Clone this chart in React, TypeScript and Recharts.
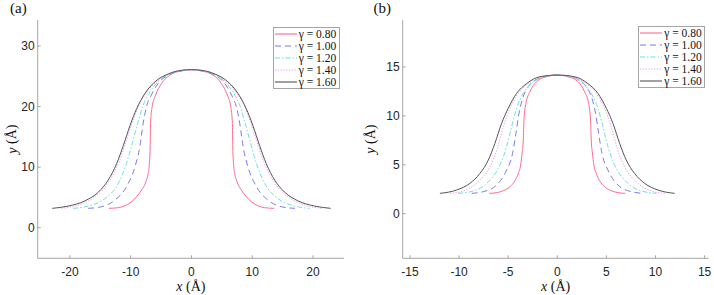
import { Legend, Line, LineChart, XAxis, YAxis } from 'recharts'

type Pt = [number, number]

const gammaLabels = ['γ = 0.80', 'γ = 1.00', 'γ = 1.20', 'γ = 1.40', 'γ = 1.60']

// panel (a)
const a080: Pt[] = [
  [-13.6, 3.2], [-12.05, 3.3], [-10.96, 3.63], [-9.86, 4.29], [-9.04, 5.11], [-8.22, 6.21], [-7.5, 7.58],
  [-7.12, 8.96], [-6.96, 10.05], [-6.8, 13.35], [-6.74, 17.2], [-6.47, 19.95], [-5.9, 21.9], [-4.93, 23.8],
  [-3.56, 25.2], [-1.64, 25.9], [0, 26.1],
  [1.64, 25.9], [3.56, 25.2], [4.93, 23.8], [5.9, 21.9], [6.47, 19.95], [6.74, 17.2], [6.8, 13.35],
  [6.96, 10.05], [7.12, 8.96], [7.5, 7.58], [8.22, 6.21], [9.04, 5.11], [9.86, 4.29], [10.96, 3.63],
  [12.05, 3.3], [13.6, 3.2],
]
const a100: Pt[] = [
  [-17.0, 3.2], [-14.8, 3.46], [-12.6, 4.56], [-10.7, 6.76], [-9.3, 10.05], [-8.5, 13.35], [-7.95, 17.2],
  [-7.4, 19.95], [-6.6, 21.9], [-5.5, 23.8], [-3.8, 25.2], [-1.64, 25.9], [0, 26.1],
  [1.64, 25.9], [3.8, 25.2], [5.5, 23.8], [6.6, 21.9], [7.4, 19.95], [7.95, 17.2], [8.5, 13.35],
  [9.3, 10.05], [10.7, 6.76], [12.6, 4.56], [14.8, 3.46], [17.0, 3.2],
]
const a120: Pt[] = [
  [-19.45, 3.2], [-17.0, 3.57], [-14.2, 4.84], [-12.05, 7.3], [-10.7, 10.6], [-9.6, 14.45], [-8.77, 17.5],
  [-7.95, 20.2], [-6.85, 22.4], [-5.5, 24.1], [-3.56, 25.4], [-1.6, 25.95], [0, 26.1],
  [1.6, 25.95], [3.56, 25.4], [5.5, 24.1], [6.85, 22.4], [7.95, 20.2], [8.77, 17.5], [9.6, 14.45],
  [10.7, 10.6], [12.05, 7.3], [14.2, 4.84], [17.0, 3.57], [19.45, 3.2],
]
const a140: Pt[] = [
  [-21.4, 3.2], [-18.6, 3.74], [-15.9, 5.1], [-13.4, 7.86], [-11.8, 11.15], [-10.7, 14.45], [-9.6, 17.75],
  [-8.5, 20.5], [-7.1, 22.7], [-5.5, 24.3], [-3.56, 25.5], [-1.6, 26.0], [0, 26.1],
  [1.6, 26.0], [3.56, 25.5], [5.5, 24.3], [7.1, 22.7], [8.5, 20.5], [9.6, 17.75], [10.7, 14.45],
  [11.8, 11.15], [13.4, 7.86], [15.9, 5.1], [18.6, 3.74], [21.4, 3.2],
]
const a160: Pt[] = [
  [-22.9, 3.2], [-20.3, 3.57], [-17.5, 4.45], [-15.3, 5.9], [-13.7, 7.86], [-12.3, 10.6], [-11.2, 13.6],
  [-10.1, 16.9], [-9.0, 19.7], [-7.7, 22.1], [-6.0, 24.1], [-3.8, 25.4], [-1.6, 26.0], [0, 26.1],
  [1.6, 26.0], [3.8, 25.4], [6.0, 24.1], [7.7, 22.1], [9.0, 19.7], [10.1, 16.9], [11.2, 13.6],
  [12.3, 10.6], [13.7, 7.86], [15.3, 5.9], [17.5, 4.45], [20.3, 3.57], [22.9, 3.2],
]

// panel (b)
const b080: Pt[] = [
  [-6.92, 2.08], [-6.18, 2.15], [-5.5, 2.35], [-4.82, 2.76], [-4.31, 3.37], [-3.97, 4.12], [-3.73, 4.97],
  [-3.58, 6.2], [-3.46, 7.53], [-3.39, 9.57], [-3.19, 11.28], [-2.78, 12.47], [-2.1, 13.5], [-1.09, 14.0], [0, 14.17],
  [1.09, 14.0], [2.1, 13.5], [2.78, 12.47], [3.19, 11.28], [3.39, 9.57], [3.46, 7.53], [3.58, 6.2],
  [3.73, 4.97], [3.97, 4.12], [4.31, 3.37], [4.82, 2.76], [5.5, 2.35], [6.18, 2.15], [6.92, 2.08],
]
const b100: Pt[] = [
  [-8.72, 2.08], [-7.53, 2.25], [-6.18, 2.93], [-5.16, 4.46], [-4.55, 6.17], [-4.21, 8.21], [-3.9, 10.26],
  [-3.53, 11.79], [-2.95, 12.98], [-2.1, 13.73], [-1.0, 14.1], [0, 14.17],
  [1.0, 14.1], [2.1, 13.73], [2.95, 12.98], [3.53, 11.79], [3.9, 10.26], [4.21, 8.21], [4.55, 6.17],
  [5.16, 4.46], [6.18, 2.93], [7.53, 2.25], [8.72, 2.08],
]
const b120: Pt[] = [
  [-10.1, 2.08], [-8.55, 2.32], [-7.02, 3.27], [-5.84, 4.97], [-5.16, 6.85], [-4.65, 8.89], [-4.14, 10.77],
  [-3.46, 12.3], [-2.61, 13.3], [-1.5, 13.95], [0, 14.17],
  [1.5, 13.95], [2.61, 13.3], [3.46, 12.3], [4.14, 10.77], [4.65, 8.89], [5.16, 6.85], [5.84, 4.97],
  [7.02, 3.27], [8.55, 2.32], [10.1, 2.08],
]
const b140: Pt[] = [
  [-10.93, 2.08], [-9.57, 2.32], [-8.04, 3.27], [-6.85, 4.8], [-6.1, 6.68], [-5.5, 8.89], [-4.82, 10.77],
  [-3.97, 12.3], [-2.95, 13.3], [-1.6, 13.95], [0, 14.17],
  [1.6, 13.95], [2.95, 13.3], [3.97, 12.3], [4.82, 10.77], [5.5, 8.89], [6.1, 6.68], [6.85, 4.8],
  [8.04, 3.27], [9.57, 2.32], [10.93, 2.08],
]
const b160: Pt[] = [
  [-11.95, 2.08], [-10.25, 2.42], [-8.9, 3.1], [-7.87, 4.12], [-7.02, 5.49], [-6.35, 7.19], [-5.67, 9.23],
  [-5.0, 10.77], [-4.14, 12.3], [-3.12, 13.3], [-1.76, 14.0], [0, 14.17],
  [1.76, 14.0], [3.12, 13.3], [4.14, 12.3], [5.0, 10.77], [5.67, 9.23], [6.35, 7.19], [7.02, 5.49],
  [7.87, 4.12], [8.9, 3.1], [10.25, 2.42], [11.95, 2.08],
]

const xTicksA = [-20, -10, 0, 10, 20]
const yTicksA = [0, 10, 20, 30]
const xTicksB = [-15, -10, -5, 0, 5, 10, 15]
const yTicksB = [0, 5, 10, 15]

const seriesStyles = [
  { color: '#ff6b8f', dash: undefined },
  { color: '#7b7bec', dash: '6 4' },
  { color: '#6fe0e0', dash: '5 2 1.5 2' },
  { color: '#e39be3', dash: '1.2 1.6' },
  { color: '#555555', dash: undefined },
]

const AXIS = '#a5a5a5'
const TICK_FONT = { fontSize: 12, fill: '#262626', fontFamily: '"Liberation Sans", Arial, sans-serif' }
const SERIF = '"Liberation Serif", "Times New Roman", serif'

function GammaLegend() {
  return (
    <div
      style={{
        width: 64,
        border: `1px solid ${AXIS}`,
        background: '#fff',
        padding: '0.5px 0 0.5px 1px',
        fontFamily: SERIF,
        fontSize: 11.5,
        color: '#111',
      }}
    >
      {gammaLabels.map((g, i) => (
        <div key={g} style={{ display: 'flex', alignItems: 'center', height: 11.9 }}>
          <svg width={22} height={6} style={{ display: 'block' }}>
            <line x1={0} x2={22} y1={3} y2={3} stroke={seriesStyles[i].color} strokeWidth={1.1} strokeDasharray={seriesStyles[i].dash} />
          </svg>
          <span style={{ marginLeft: 2, whiteSpace: 'nowrap' }}>{g}</span>
        </div>
      ))}
    </div>
  )
}

type PanelProps = {
  curves: Pt[][]
  xDomain: [number, number]
  yDomain: [number, number]
  xTicks: number[]
  yTicks: number[]
  left: number
  right: number
  legendLeft: number
  legendTop: number
  yLabelX: number
}

function Panel({ curves, xDomain, yDomain, xTicks, yTicks, left, right, legendLeft, legendTop, yLabelX }: PanelProps) {
  return (
    <LineChart width={357} height={295} margin={{ top: 20, right, bottom: 6.7, left }}>
      <XAxis
        type="number"
        dataKey="x"
        domain={xDomain}
        ticks={xTicks}
        interval={0}
        height={30}
        stroke={AXIS}
        tickSize={-3}
        tickMargin={12}
        tick={TICK_FONT}
        label={(p: any) => {
          const vb = p.viewBox
          return (
            <text x={vb.x + vb.width / 2} y={vb.y + 33} textAnchor="middle" fontFamily={SERIF} fontSize={14} fill="#111">
              <tspan fontStyle="italic">x</tspan> (Å)
            </text>
          )
        }}
      />
      <XAxis xAxisId="top" orientation="top" type="number" dataKey="x" domain={xDomain} ticks={xTicks} interval={0} height={0} stroke={AXIS} tickSize={-3} tick={false} />
      <YAxis
        type="number"
        domain={yDomain}
        ticks={yTicks}
        interval={0}
        width={30}
        stroke={AXIS}
        tickSize={-3}
        tickMargin={6}
        tick={TICK_FONT}
        label={(p: any) => {
          const cy = p.viewBox.y + p.viewBox.height / 2
          return (
            <text x={yLabelX} y={cy} transform={`rotate(-90 ${yLabelX} ${cy})`} textAnchor="middle" dominantBaseline="central" fontFamily={SERIF} fontSize={14} fill="#111">
              <tspan fontStyle="italic">y</tspan> (Å)
            </text>
          )
        }}
      />
      <YAxis yAxisId="right" orientation="right" type="number" domain={yDomain} ticks={yTicks} interval={0} width={0} stroke={AXIS} tickSize={-3} tick={false} />
      <Legend
        layout="vertical"
        align="center"
        verticalAlign="middle"
        content={() => <GammaLegend />}
        wrapperStyle={{ left: legendLeft, top: legendTop }}
      />
      {curves.map((c, i) => (
        <Line
          key={gammaLabels[i]}
          name={gammaLabels[i]}
          data={c.map(([x, y]) => ({ x, y }))}
          dataKey="y"
          type="monotone"
          stroke={seriesStyles[i].color}
          strokeWidth={1}
          strokeDasharray={seriesStyles[i].dash}
          dot={false}
          activeDot={false}
          isAnimationActive={false}
        />
      ))}
    </LineChart>
  )
}

export default function App() {
  return (
    <div style={{ position: 'absolute', left: 0, top: 0, width: 714, height: 295, background: '#fff' }}>
      <div style={{ position: 'absolute', left: 0, top: 0 }}>
        <Panel
          curves={[a080, a100, a120, a140, a160]}
          xDomain={[-25.3, 25.1]}
          yDomain={[-5.05, 34.3]}
          xTicks={xTicksA}
          yTicks={yTicksA}
          left={7.7}
          right={13}
          legendLeft={272.7}
          legendTop={26.5}
          yLabelX={11.7}
        />
      </div>
      <div style={{ position: 'absolute', left: 357, top: 0 }}>
        <Panel
          curves={[b080, b100, b120, b140, b160]}
          xDomain={[-15.74, 15.42]}
          yDomain={[-4.56, 19.8]}
          xTicks={xTicksB}
          yTicks={yTicksB}
          left={15.7}
          right={5.3}
          legendLeft={281.3}
          legendTop={25.7}
          yLabelX={13.3}
        />
      </div>
      <div style={{ position: 'absolute', left: 10, top: 0, fontFamily: SERIF, fontSize: 15, color: '#111' }}>(a)</div>
      <div style={{ position: 'absolute', left: 373.5, top: 0, fontFamily: SERIF, fontSize: 15, color: '#111' }}>(b)</div>
    </div>
  )
}
